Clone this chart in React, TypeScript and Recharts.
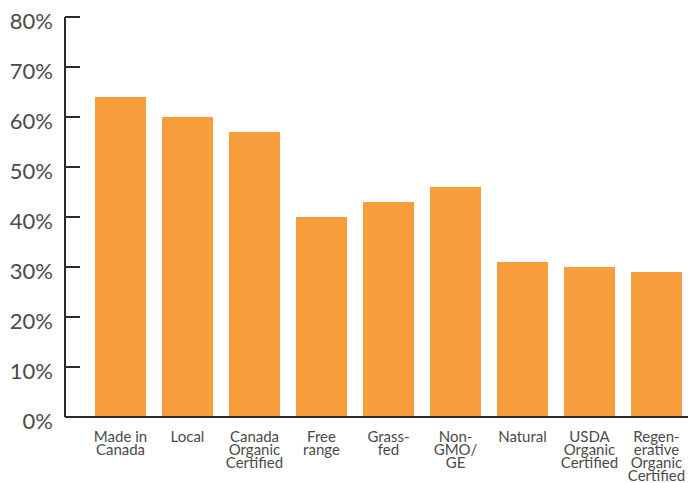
import { BarChart, Bar, XAxis, YAxis } from "recharts";

const categories = [
  "Made in\nCanada",
  "Local",
  "Canada\nOrganic\nCertified",
  "Free\nrange",
  "Grass-\nfed",
  "Non-\nGMO/\nGE",
  "Natural",
  "USDA\nOrganic\nCertified",
  "Regen-\nerative\nOrganic\nCertified",
];
const shares = [64, 60, 57, 40, 43, 46, 31, 30, 29];
const yTicks = [0, 10, 20, 30, 40, 50, 60, 70, 80];

const data = categories.map((name, i) => ({ name, value: shares[i] }));

const AXIS = "#2a2a2a";
const TEXT = "#4a4a4a";

const YTick = (props: any) => {
  const { x, y, payload } = props;
  return (
    <g>
      <line x1={x + 12} x2={x + 27} y1={y} y2={y} stroke={AXIS} strokeWidth={2} />
      <text x={x} y={y + 12} textAnchor="end" fontSize={22} fill={TEXT}>
        {`${payload.value}%`}
      </text>
    </g>
  );
};

const XTick = (props: any) => {
  const { x, y, payload } = props;
  const lines = String(payload.value).split("\n");
  return (
    <text x={x} y={y} textAnchor="middle" fontSize={15} fill={TEXT}>
      {lines.map((l, i) => (
        <tspan key={i} x={x} y={y + 25 + i * 13}>
          {l}
        </tspan>
      ))}
    </text>
  );
};

export default function App() {
  return (
    <div
      style={{
        position: "absolute",
        left: 0,
        top: 0,
        width: 688,
        height: 483,
        overflow: "hidden",
        background: "#fff",
        fontFamily: "Lato, sans-serif",
      }}
    >
      <BarChart
        width={690}
        height={483}
        data={data}
        margin={{ top: 17, right: 0, bottom: 0, left: 0 }}
        barSize={51}
      >
        <XAxis
          dataKey="name"
          height={66}
          interval={0}
          padding={{ left: 22, right: 0 }}
          axisLine={{ stroke: AXIS, strokeWidth: 2 }}
          tickLine={false}
          tickSize={0}
          tickMargin={0}
          tick={<XTick />}
        />
        <YAxis
          width={65}
          domain={[0, 80]}
          ticks={yTicks}
          interval={0}
          axisLine={{ stroke: AXIS, strokeWidth: 2 }}
          tickLine={false}
          tickSize={0}
          tickMargin={12}
          tick={<YTick />}
        />
        <Bar dataKey="value" fill="#F89D3B" isAnimationActive={false} />
      </BarChart>
    </div>
  );
}
